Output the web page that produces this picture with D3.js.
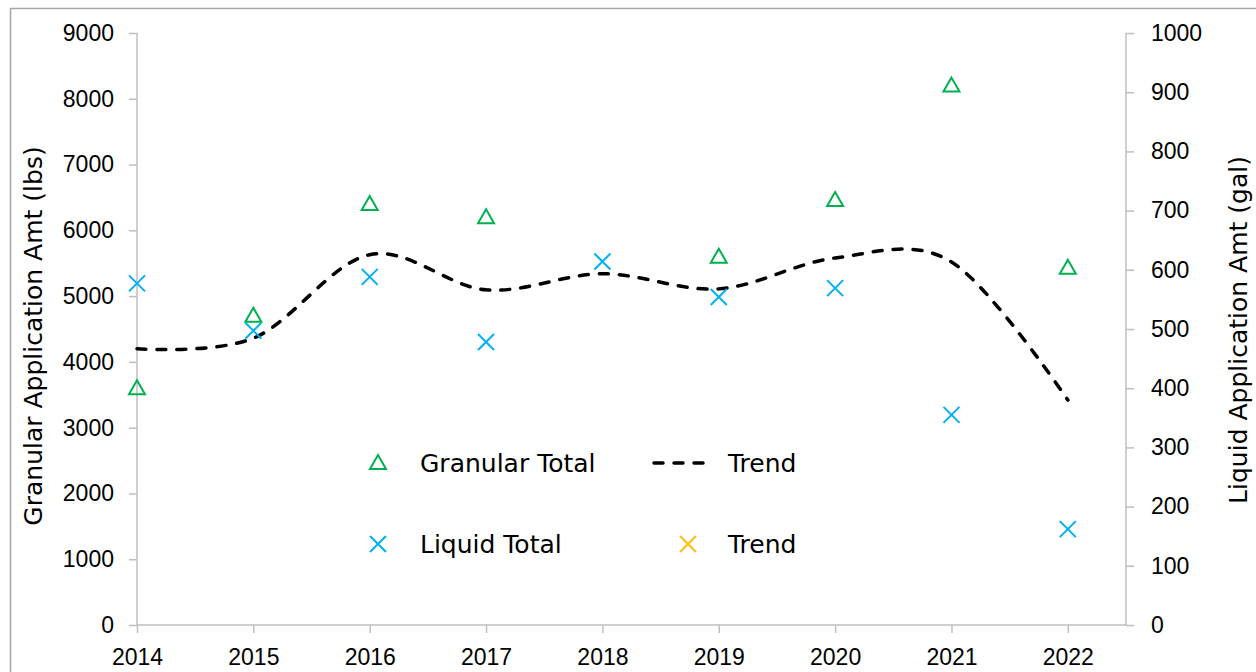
<!DOCTYPE html>
<html>
<head>
<meta charset="utf-8">
<script src="https://cdn.jsdelivr.net/npm/d3@7"></script>
<style>
  body { margin: 0; background: #fff; }
  svg { display: block; font-family: "DejaVu Sans", sans-serif; }
  .axis path, .axis line { stroke: #bfbfbf; stroke-width: 1.5; }
  .axis text { fill: #000; }
</style>
</head>
<body>
<div id="chart"></div>
<script>
// data
var years = [2014, 2015, 2016, 2017, 2018, 2019, 2020, 2021, 2022];
var granular = [3600, 4700, 6400, 6200, null, 5600, 6460, 8200, 5430];
var liquid = [577, 497, 588, 478, 614, 554, 569, 355, 162];
var trend = [4200, 4360, 5630, 5095, 5340, 5110, 5580, 5520, 3420];
var leftTicks = [0, 1000, 2000, 3000, 4000, 5000, 6000, 7000, 8000, 9000];
var rightTicks = [0, 100, 200, 300, 400, 500, 600, 700, 800, 900, 1000];

var W = 1256, H = 672;
var margin = { top: 33, right: 130, bottom: 47, left: 137 },
    width = W - margin.left - margin.right,
    height = H - margin.top - margin.bottom;

var svg = d3.select("#chart").append("svg")
    .attr("width", W)
    .attr("height", H);

// outer chart border
svg.append("rect")
    .attr("x", 10.5).attr("y", 8.5)
    .attr("width", 1260).attr("height", 700)
    .attr("fill", "none")
    .attr("stroke", "#a6a6a6")
    .attr("stroke-width", 1.5);

var g = svg.append("g")
    .attr("transform", "translate(" + margin.left + "," + margin.top + ")");

var x = d3.scaleLinear().domain([2014, 2022.5]).range([0, width]);
var yL = d3.scaleLinear().domain([0, 9000]).range([height, 0]);
var yR = d3.scaleLinear().domain([0, 1000]).range([height, 0]);

// axes
var ax = g.append("g").attr("class", "axis")
    .attr("transform", "translate(0," + height + ")")
    .call(d3.axisBottom(x).tickValues(years).tickFormat(d3.format("d")).tickSizeOuter(0).tickSize(8).tickPadding(16));
ax.select(".domain").attr("d", "M0,0H" + width);

var ay = g.append("g").attr("class", "axis")
    .call(d3.axisLeft(yL).tickValues(leftTicks).tickFormat(d3.format("d")).tickSizeOuter(0).tickSize(8).tickPadding(15));
ay.select(".domain").attr("d", "M0," + height + "V0");

var ar = g.append("g").attr("class", "axis")
    .attr("transform", "translate(" + width + ",0)")
    .call(d3.axisRight(yR).tickValues(rightTicks).tickFormat(d3.format("d")).tickSizeOuter(0).tickSize(8).tickPadding(17));
ar.select(".domain").attr("d", "M0," + height + "V0");
g.selectAll(".axis .tick text").style("font-size", "23px");

// axis titles
svg.append("text")
    .attr("transform", "translate(42," + (margin.top + 303) + ") rotate(-90)")
    .attr("text-anchor", "middle")
    .style("font-size", "25px")
    .text("Granular Application Amt (lbs)");
svg.append("text")
    .attr("transform", "translate(1247," + (margin.top + 297) + ") rotate(-90)")
    .attr("text-anchor", "middle")
    .style("font-size", "25px")
    .text("Liquid Application Amt (gal)");

// trend line
var trendData = years.map(function (d, i) { return { x: d, y: trend[i] }; });
var line = d3.line()
    .x(function (d) { return x(d.x); })
    .y(function (d) { return yL(d.y); })
    .curve(d3.curveCatmullRom.alpha(0));
g.append("path")
    .datum(trendData)
    .attr("d", line)
    .attr("fill", "none")
    .attr("stroke", "#000")
    .attr("stroke-width", 3.5)
    .attr("stroke-linecap", "round")
    .attr("stroke-dasharray", "9,11");

function triangle(sel, cx, cy) {
    sel.append("path")
        .attr("d", "M" + cx + "," + (cy - 8) + "L" + (cx + 8) + "," + (cy + 6) + "L" + (cx - 8) + "," + (cy + 6) + "Z")
        .attr("fill", "none")
        .attr("stroke", "#00b050")
        .attr("stroke-width", 2);
}
function cross(sel, cx, cy, color) {
    sel.append("path")
        .attr("d", "M" + (cx - 8) + "," + (cy - 8) + "L" + (cx + 8) + "," + (cy + 8) + "M" + (cx + 8) + "," + (cy - 8) + "L" + (cx - 8) + "," + (cy + 8))
        .attr("fill", "none")
        .attr("stroke", color)
        .attr("stroke-width", 2);
}

// granular points
granular.forEach(function (v, i) {
    if (v == null) return;
    triangle(g, x(years[i]), yL(v));
});
// liquid points
liquid.forEach(function (v, i) {
    cross(g, x(years[i]), yR(v), "#00b0f0");
});

// legend
var lg = svg.append("g").style("font-size", "25px");
triangle(lg, 378, 463);
lg.append("text").attr("x", 420).attr("y", 472).text("Granular Total");
lg.append("line").attr("x1", 654).attr("x2", 710).attr("y1", 463).attr("y2", 463)
    .attr("stroke", "#000").attr("stroke-width", 3.5).attr("stroke-linecap", "round").attr("stroke-dasharray", "9,11");
lg.append("text").attr("x", 728).attr("y", 472).text("Trend");
cross(lg, 378, 544, "#00b0f0");
lg.append("text").attr("x", 420).attr("y", 553).text("Liquid Total");
cross(lg, 688, 544, "#ffc000");
lg.append("text").attr("x", 728).attr("y", 553).text("Trend");
</script>
</body>
</html>
